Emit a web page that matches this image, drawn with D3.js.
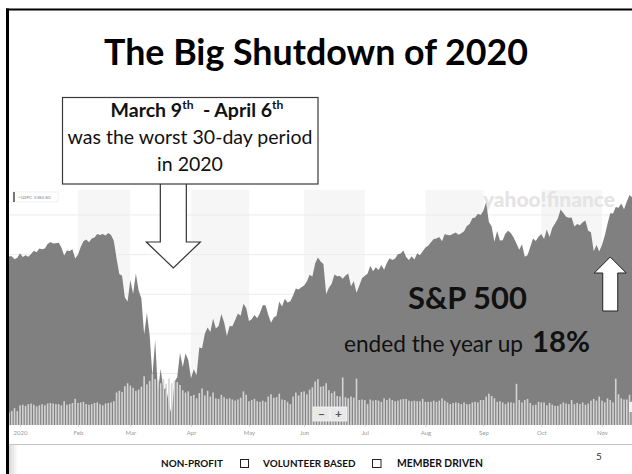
<!DOCTYPE html>
<html><head><meta charset="utf-8">
<script src="https://cdn.jsdelivr.net/npm/d3@7"></script>
<style>html,body{margin:0;padding:0;background:#fff;overflow:hidden}</style>
</head><body>
<svg id="c" width="632" height="474" xmlns="http://www.w3.org/2000/svg"></svg>
<script>
// ---------------- DATA ----------------
const tradingDays = [
"2019-12-26","2019-12-27","2019-12-30","2019-12-31",
"2020-01-02","2020-01-03","2020-01-06","2020-01-07","2020-01-08","2020-01-09","2020-01-10","2020-01-13","2020-01-14","2020-01-15","2020-01-16","2020-01-17","2020-01-21","2020-01-22","2020-01-23","2020-01-24","2020-01-27","2020-01-28","2020-01-29","2020-01-30","2020-01-31",
"2020-02-03","2020-02-04","2020-02-05","2020-02-06","2020-02-07","2020-02-10","2020-02-11","2020-02-12","2020-02-13","2020-02-14","2020-02-18","2020-02-19","2020-02-20","2020-02-21","2020-02-24","2020-02-25","2020-02-26","2020-02-27","2020-02-28",
"2020-03-02","2020-03-03","2020-03-04","2020-03-05","2020-03-06","2020-03-09","2020-03-10","2020-03-11","2020-03-12","2020-03-13","2020-03-16","2020-03-17","2020-03-18","2020-03-19","2020-03-20","2020-03-23","2020-03-24","2020-03-25","2020-03-26","2020-03-27","2020-03-30","2020-03-31",
"2020-04-01","2020-04-02","2020-04-03","2020-04-06","2020-04-07","2020-04-08","2020-04-09","2020-04-13","2020-04-14","2020-04-15","2020-04-16","2020-04-17","2020-04-20","2020-04-21","2020-04-22","2020-04-23","2020-04-24","2020-04-27","2020-04-28","2020-04-29","2020-04-30",
"2020-05-01","2020-05-04","2020-05-05","2020-05-06","2020-05-07","2020-05-08","2020-05-11","2020-05-12","2020-05-13","2020-05-14","2020-05-15","2020-05-18","2020-05-19","2020-05-20","2020-05-21","2020-05-22","2020-05-26","2020-05-27","2020-05-28","2020-05-29",
"2020-06-01","2020-06-02","2020-06-03","2020-06-04","2020-06-05","2020-06-08","2020-06-09","2020-06-10","2020-06-11","2020-06-12","2020-06-15","2020-06-16","2020-06-17","2020-06-18","2020-06-19","2020-06-22","2020-06-23","2020-06-24","2020-06-25","2020-06-26","2020-06-29","2020-06-30",
"2020-07-01","2020-07-02","2020-07-06","2020-07-07","2020-07-08","2020-07-09","2020-07-10","2020-07-13","2020-07-14","2020-07-15","2020-07-16","2020-07-17","2020-07-20","2020-07-21","2020-07-22","2020-07-23","2020-07-24","2020-07-27","2020-07-28","2020-07-29","2020-07-30","2020-07-31",
"2020-08-03","2020-08-04","2020-08-05","2020-08-06","2020-08-07","2020-08-10","2020-08-11","2020-08-12","2020-08-13","2020-08-14","2020-08-17","2020-08-18","2020-08-19","2020-08-20","2020-08-21","2020-08-24","2020-08-25","2020-08-26","2020-08-27","2020-08-28","2020-08-31",
"2020-09-01","2020-09-02","2020-09-03","2020-09-04","2020-09-08","2020-09-09","2020-09-10","2020-09-11","2020-09-14","2020-09-15","2020-09-16","2020-09-17","2020-09-18","2020-09-21","2020-09-22","2020-09-23","2020-09-24","2020-09-25","2020-09-28","2020-09-29","2020-09-30",
"2020-10-01","2020-10-02","2020-10-05","2020-10-06","2020-10-07","2020-10-08","2020-10-09","2020-10-12","2020-10-13","2020-10-14","2020-10-15","2020-10-16","2020-10-19","2020-10-20","2020-10-21","2020-10-22","2020-10-23","2020-10-26","2020-10-27","2020-10-28","2020-10-29","2020-10-30",
"2020-11-02","2020-11-03","2020-11-04","2020-11-05","2020-11-06","2020-11-09","2020-11-10","2020-11-11","2020-11-12","2020-11-13","2020-11-16","2020-11-17"
];

// S&P 500 close (index points)
const closes = [
3239.9,3240.0,3221.3,3230.8,
3257.9,3234.9,3246.3,3237.2,3253.1,3274.7,3265.4,3288.1,3283.2,3289.3,3316.8,3329.6,3320.8,3321.8,3325.5,3295.5,3243.6,3276.2,3273.4,3283.7,3225.5,
3248.9,3297.6,3334.7,3345.8,3327.7,3352.1,3357.8,3379.5,3373.9,3380.2,3370.3,3386.2,3373.2,3337.8,3225.9,3128.2,3116.4,2978.8,2954.2,
3090.2,3003.4,3130.1,3023.9,2972.4,2746.6,2882.2,2741.4,2480.6,2711.0,2386.1,2529.2,2398.1,2409.4,2304.9,2237.4,2447.3,2475.6,2630.1,2541.5,2626.7,2584.6,
2470.5,2526.9,2488.7,2663.7,2659.4,2750.0,2789.8,2761.6,2846.1,2783.4,2799.6,2874.6,2823.2,2736.6,2799.3,2797.8,2836.7,2878.5,2863.4,2939.5,2912.4,
2830.7,2842.7,2868.4,2848.4,2881.2,2929.8,2930.3,2870.1,2820.0,2852.5,2863.7,2953.9,2922.9,2971.6,2948.5,2955.5,2991.8,3036.1,3029.7,3044.3,
3055.7,3080.8,3122.9,3112.4,3193.9,3232.4,3207.2,3190.1,3002.1,3041.3,3066.6,3124.7,3113.5,3115.3,3097.7,3117.9,3131.3,3050.3,3083.8,3009.1,3053.2,3100.3,
3115.9,3130.0,3179.7,3145.3,3169.9,3152.1,3185.0,3155.2,3197.5,3226.6,3215.6,3224.7,3251.8,3257.3,3276.0,3235.7,3215.6,3239.4,3218.4,3258.4,3246.2,3271.1,
3294.6,3306.5,3327.8,3349.2,3351.3,3360.5,3333.7,3380.4,3373.4,3372.9,3382.0,3389.8,3374.9,3385.5,3397.2,3431.3,3443.6,3478.7,3484.6,3508.0,3500.3,
3526.7,3580.8,3455.1,3427.0,3331.8,3399.0,3339.2,3341.0,3383.5,3401.2,3385.5,3357.0,3319.5,3281.1,3315.6,3236.9,3246.6,3298.5,3351.6,3335.5,3363.0,
3380.8,3348.4,3408.6,3361.0,3419.4,3446.8,3477.1,3534.2,3511.9,3488.7,3483.3,3483.8,3426.9,3443.1,3435.6,3453.5,3465.4,3401.0,3390.7,3271.0,3310.1,3270.0,
3310.2,3369.2,3443.4,3510.5,3509.4,3550.5,3545.5,3572.7,3537.0,3585.2,3626.9,3609.5
];

// Daily volume (billions of shares, estimated from the bars)
const volumes = [
2.2,2.4,2.9,2.4,
3.4,3.5,3.3,3.6,3.7,3.5,3.2,3.4,3.6,3.4,3.7,3.8,3.7,3.6,3.6,3.4,4.1,3.5,3.6,3.8,4.5,
3.8,3.9,4.0,3.6,3.5,3.6,3.8,3.9,3.6,3.4,3.7,3.8,3.9,4.1,5.6,5.9,5.7,6.7,7.2,
6.8,6.4,5.9,6.1,6.6,8.4,7.0,7.6,8.8,7.9,7.8,7.2,7.9,7.1,8.0,7.2,7.6,7.4,6.9,6.0,5.6,5.8,
5.0,5.2,4.6,5.5,6.3,5.1,5.9,4.9,5.6,4.6,4.5,5.2,4.8,4.5,4.6,4.4,4.2,4.4,4.7,5.8,5.2,
4.1,4.3,4.5,4.1,4.0,4.2,4.0,4.9,5.3,4.7,4.8,5.4,4.4,4.3,4.0,3.6,4.9,5.6,5.1,5.7,
5.8,5.3,6.1,6.5,7.5,7.9,6.6,6.7,7.2,6.0,5.5,5.8,5.0,4.9,8.2,4.8,4.6,4.9,4.7,8.0,4.3,4.4,
4.3,3.6,4.4,4.2,4.3,4.2,4.0,4.6,4.3,4.6,4.3,4.1,4.2,4.4,4.5,4.5,4.2,4.1,4.2,4.1,4.1,4.5,
4.0,4.0,4.0,4.2,4.0,4.2,4.6,4.2,3.9,3.6,3.8,3.9,3.8,3.6,3.9,3.6,3.6,3.9,4.0,3.9,4.3,
4.3,4.9,5.4,5.0,4.6,4.0,4.1,3.9,3.6,3.9,3.9,3.8,7.1,4.3,3.9,4.3,4.5,3.8,3.4,3.5,4.0,
3.9,3.9,3.4,3.8,3.5,3.3,3.3,3.6,3.9,3.7,3.6,4.3,3.6,3.8,3.6,3.9,3.5,3.7,4.2,4.5,4.2,4.9,
4.2,3.9,4.6,4.3,3.9,8.0,5.3,4.6,4.4,4.4,5.2,4.2
];

const monthTicks  = ["2020-01-02","2020-02-03","2020-03-02","2020-04-01","2020-05-01","2020-06-01","2020-07-01","2020-08-03","2020-09-01","2020-10-01","2020-11-02"];
const monthLabels = ["2020","Feb","Mar","Apr","May","Jun","Jul","Aug","Sep","Oct","Nov"];
const priceGrid   = [2250,2500,2750,3000,3250,3500];
const footerItems = ["NON-PROFIT","VOLUNTEER BASED","MEMBER DRIVEN"];

// ---------------- LAYOUT ----------------
const W = 632, H = 474;
const FONT = "Lato, 'Open Sans', 'DejaVu Sans', sans-serif";
const svg = d3.select("#c");
const plotTop = 190, plotBottom = 425;
const step = 2.758;

const x = d3.scalePoint().domain(tradingDays).range([9, 9 + (tradingDays.length - 1) * step]);
const y = d3.scaleLinear().domain([2200, 3700]).range([421, 183.3]);
const yv = d3.scaleLinear().domain([0, 9]).range([plotBottom, plotBottom - 52.2]);

function fit(sel, target) {
  const w = sel.node().getBBox().width;
  const fs = parseFloat(sel.attr("font-size"));
  sel.attr("font-size", fs * target / w);
  return sel;
}

svg.append("rect").attr("width", W).attr("height", H).attr("fill", "#fff");

// chart clip
svg.append("defs").append("clipPath").attr("id", "plot")
  .append("rect").attr("x", 9).attr("y", 0).attr("width", W - 9).attr("height", plotBottom);

const chart = svg.append("g").attr("clip-path", "url(#plot)");

// month bands
monthTicks.forEach((m, i) => {
  const x0 = x(m);
  const x1 = i + 1 < monthTicks.length ? x(monthTicks[i + 1]) : W;
  if (i % 2 === 1) {
    chart.append("rect").attr("x", x0).attr("y", plotTop).attr("width", x1 - x0)
      .attr("height", plotBottom - plotTop).attr("fill", "#f6f6f6");
  }
});

// gridlines
chart.selectAll("line.grid").data(priceGrid).join("line").attr("class", "grid")
  .attr("x1", 9).attr("x2", W).attr("y1", d => y(d)).attr("y2", d => y(d))
  .attr("stroke", "#ececec").attr("stroke-width", 1);

// watermark
const wm = chart.append("text").attr("x", 483).attr("y", 207)
  .attr("font-family", FONT).attr("font-weight", 900).attr("font-size", 17)
  .attr("fill", "#e4e4e4").text("yahoo!finance");
fit(wm, 132);

// price area
const idx = d3.range(tradingDays.length);
const area = d3.area()
  .x(i => x(tradingDays[i]))
  .y0(plotBottom)
  .y1(i => y(closes[i]));
chart.append("path").datum(idx).attr("d", area).attr("fill", "#808080");

// volume bars
chart.selectAll("rect.vol").data(idx).join("rect").attr("class", "vol")
  .attr("x", i => x(tradingDays[i]) - 0.8).attr("width", 1.6)
  .attr("y", i => yv(volumes[i])).attr("height", i => plotBottom - yv(volumes[i]))
  .attr("fill", "#d3d3d3");

// x axis
const ax = svg.append("g").attr("transform", `translate(0,${plotBottom})`)
  .call(d3.axisBottom(x).tickValues(monthTicks).tickFormat((d, i) => monthLabels[i]).tickSize(2).tickPadding(3.5));
ax.select(".domain").remove();
ax.selectAll("line").attr("stroke", "#d8d8d8");
ax.selectAll("text").attr("font-family", FONT).attr("font-size", 6).attr("fill", "#9a9a9a");

// legend chip
svg.append("rect").attr("x", 13).attr("y", 192).attr("width", 45).attr("height", 10)
  .attr("fill", "#fff").attr("stroke", "#e6e6e6").attr("stroke-width", 0.6);
svg.append("rect").attr("x", 13).attr("y", 192).attr("width", 2).attr("height", 10).attr("fill", "#777");
svg.append("text").attr("x", 18).attr("y", 199.3).attr("font-family", FONT).attr("font-size", 4.6)
  .attr("fill", "#888").text("^GSPC 3380.80");

// zoom control
svg.append("rect").attr("x", 313).attr("y", 407).attr("width", 34).attr("height", 14)
  .attr("fill", "#e9e9e9").attr("stroke", "#f6f6f6").attr("stroke-width", 0.8);
svg.append("line").attr("x1", 330).attr("x2", 330).attr("y1", 409).attr("y2", 419).attr("stroke", "#f8f8f8");
svg.append("text").attr("x", 321.5).attr("y", 418).attr("text-anchor", "middle").attr("font-family", FONT)
  .attr("font-weight", 700).attr("font-size", 12).attr("fill", "#555").text("\u2212");
svg.append("text").attr("x", 338.5).attr("y", 418).attr("text-anchor", "middle").attr("font-family", FONT)
  .attr("font-weight", 700).attr("font-size", 12).attr("fill", "#555").text("+");
svg.append("rect").attr("x", 629).attr("y", 402).attr("width", 4).attr("height", 10).attr("fill", "#f2f2f2");

// separator & footer shading
const grad = svg.select("defs").append("linearGradient").attr("id", "shade").attr("x1", 0).attr("x2", 1);
grad.append("stop").attr("offset", 0).attr("stop-color", "#d9d9d9");
grad.append("stop").attr("offset", 1).attr("stop-color", "#ffffff");
svg.append("rect").attr("x", 9).attr("y", 445).attr("width", 9).attr("height", 29).attr("fill", "url(#shade)");
svg.append("line").attr("x1", 9).attr("x2", W).attr("y1", 444.5).attr("y2", 444.5).attr("stroke", "#c4c4c4").attr("stroke-width", 1);

// ---------------- ANNOTATIONS ----------------
// down arrow (points at the March low)
const dx = x("2020-03-23") + 1.6;
const downPts = [[dx - 13, 184], [dx - 13, 242], [dx - 27, 242], [dx, 268], [dx + 27, 242], [dx + 13, 242], [dx + 13, 184]];
svg.append("path").attr("d", d3.line()(downPts)).attr("fill", "#fff").attr("stroke", "#333").attr("stroke-width", 1.2);

// up arrow (right side)
const ux = x("2020-11-05");
const upPts = [[ux - 7.5, 311], [ux - 7.5, 273], [ux - 16, 273], [ux, 257], [ux + 16, 273], [ux + 7.5, 273], [ux + 7.5, 311]];
svg.append("path").attr("d", d3.line()(upPts) + "Z").attr("fill", "#fff").attr("stroke", "#222").attr("stroke-width", 1);

// annotation box
svg.append("rect").attr("x", 62.5).attr("y", 97.5).attr("width", 255.5).attr("height", 86.5)
  .attr("fill", "#fff").attr("stroke", "#3a3a3a").attr("stroke-width", 1.2);
const l2 = svg.append("text").attr("x", 190).attr("y", 144).attr("text-anchor", "middle")
  .attr("font-family", FONT).attr("font-size", 17).attr("fill", "#111").text("was the worst 30-day period");
fit(l2, 245);
const boxFs = parseFloat(l2.attr("font-size"));
svg.append("text").attr("x", 190).attr("y", 171).attr("text-anchor", "middle")
  .attr("font-family", FONT).attr("font-size", boxFs).attr("fill", "#111").text("in 2020");
const l1 = svg.append("text").attr("x", 197).attr("y", 117).attr("text-anchor", "middle")
  .attr("font-family", FONT).attr("font-weight", 700).attr("font-size", boxFs).attr("fill", "#111");
l1.append("tspan").text("March 9");
l1.append("tspan").attr("font-size", "0.62em").attr("dy", "-0.62em").text("th");
l1.append("tspan").attr("dy", "0.384em").text("\u00a0\u00a0- April 6");
l1.append("tspan").attr("font-size", "0.62em").attr("dy", "-0.62em").text("th");

// title
const title = svg.append("text").attr("x", 316).attr("y", 65).attr("text-anchor", "middle")
  .attr("font-family", FONT).attr("font-weight", 700).attr("font-size", 33).attr("fill", "#000")
  .text("The Big Shutdown of 2020");
fit(title, 424);

// S&P labels
const sp = svg.append("text").attr("x", 408).attr("y", 309).attr("font-family", FONT)
  .attr("font-weight", 700).attr("font-size", 28).attr("fill", "#111").text("S&P 500");
fit(sp, 119);
const ended = svg.append("text").attr("x", 344).attr("y", 352).attr("font-family", FONT)
  .attr("font-size", 20).attr("fill", "#111").text("ended the year up");
fit(ended, 179);
const pct = svg.append("text").attr("x", 532).attr("y", 352).attr("font-family", FONT)
  .attr("font-weight", 700).attr("font-size", 30).attr("fill", "#111").text("18%");
fit(pct, 58);

// footer
const starts = [161, 263, 397];
const widths = [62, 94, 86];
footerItems.forEach((t, i) => {
  const tx = svg.append("text").attr("x", starts[i]).attr("y", 467).attr("font-family", FONT)
    .attr("font-weight", 700).attr("font-size", 10).attr("fill", "#111").text(t);
  fit(tx, widths[i]);
});
[[240.5, 8], [372.5, 8.5]].forEach(([bx, bw]) => {
  svg.append("rect").attr("x", bx).attr("y", 459.5).attr("width", bw).attr("height", 8)
    .attr("fill", "none").attr("stroke", "#222").attr("stroke-width", 1);
});
svg.append("text").attr("x", 596).attr("y", 460).attr("font-family", FONT).attr("font-size", 10)
  .attr("fill", "#333").text("5");

// slide borders
svg.append("rect").attr("x", 6).attr("y", 8.5).attr("width", W - 6).attr("height", 2).attr("fill", "#000");
svg.append("rect").attr("x", 6).attr("y", 8.5).attr("width", 3).attr("height", H - 8.5).attr("fill", "#000");
</script>
</body></html>
